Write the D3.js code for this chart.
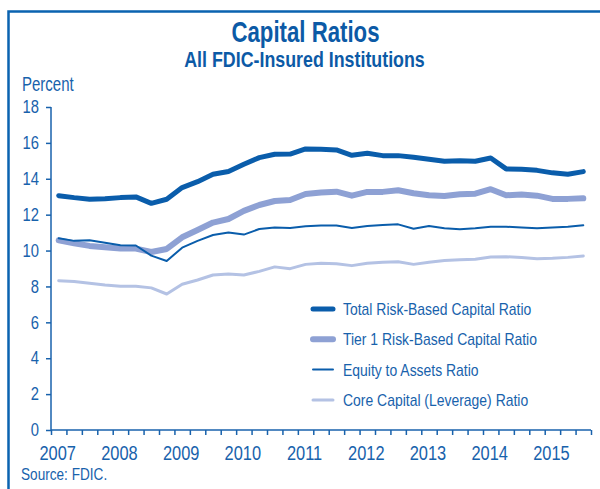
<!DOCTYPE html>
<html>
<head>
<meta charset="utf-8">
<script src="https://cdn.jsdelivr.net/npm/d3@7"></script>
<style>
  body { margin: 0; background: #fff; }
  text { font-family: "Liberation Sans", Arial, sans-serif; }
</style>
</head>
<body>
<div id="chart"></div>
<script>
// Quarterly data, 2007 Q1 to 2015 Q3
var quarters = [];
for (var y = 2007; y <= 2015; y++) {
  for (var q = 1; q <= 4; q++) {
    if (y === 2015 && q > 3) break;
    quarters.push(y + 'Q' + q);
  }
}

var yearLabels = ['2007', '2008', '2009', '2010', '2011', '2012', '2013', '2014', '2015'];
var yTicks = [0, 2, 4, 6, 8, 10, 12, 14, 16, 18];

var totalRiskBased = [13.06, 12.95, 12.86, 12.89, 12.95, 12.99, 12.63, 12.86, 13.51, 13.84, 14.25, 14.41,
  14.81, 15.18, 15.37, 15.38, 15.66, 15.64, 15.61, 15.31, 15.42, 15.29, 15.29, 15.20,
  15.09, 14.98, 15.01, 14.98, 15.16, 14.55, 14.53, 14.47, 14.33, 14.25, 14.40];

var tier1RiskBased = [10.57, 10.41, 10.26, 10.18, 10.11, 10.11, 9.92, 10.09, 10.74, 11.15, 11.56, 11.76,
  12.21, 12.54, 12.76, 12.82, 13.15, 13.23, 13.28, 13.06, 13.27, 13.27, 13.36, 13.19,
  13.08, 13.04, 13.14, 13.17, 13.42, 13.08, 13.12, 13.06, 12.88, 12.88, 12.91];

var equityToAssets = [10.68, 10.54, 10.57, 10.44, 10.29, 10.28, 9.72, 9.42, 10.16, 10.54, 10.87, 11.01,
  10.89, 11.20, 11.28, 11.26, 11.35, 11.39, 11.39, 11.26, 11.37, 11.43, 11.46, 11.22,
  11.37, 11.24, 11.19, 11.24, 11.32, 11.33, 11.28, 11.24, 11.28, 11.32, 11.41];

var coreCapital = [8.32, 8.27, 8.18, 8.08, 8.01, 8.01, 7.92, 7.58, 8.12, 8.36, 8.64, 8.70,
  8.64, 8.84, 9.09, 8.99, 9.23, 9.29, 9.27, 9.16, 9.29, 9.35, 9.38, 9.23,
  9.35, 9.44, 9.49, 9.51, 9.64, 9.66, 9.61, 9.55, 9.57, 9.62, 9.70];

var seriesNames = ['Total Risk-Based Capital Ratio', 'Tier 1 Risk-Based Capital Ratio',
  'Equity to Assets Ratio', 'Core Capital (Leverage) Ratio'];

// drawing order: thick ones first, then thin ones on top
var series = [
  { name: seriesNames[1], values: tier1RiskBased, color: '#8ea1d4', width: 6 },
  { name: seriesNames[0], values: totalRiskBased, color: '#0a5dab', width: 5 },
  { name: seriesNames[3], values: coreCapital, color: '#b4c2e4', width: 3 },
  { name: seriesNames[2], values: equityToAssets, color: '#0a5dab', width: 2 }
];
var legendOrder = [1, 0, 3, 2];

var W = 600, H = 489;
var blue = '#1862ac';
var titleBlue = '#0c5aa6';

// squeeze text so it looks like the condensed face of the original
var condense = function(sel, factor){
  sel.each(function(){
    var w = this.getComputedTextLength();
    d3.select(this).attr('textLength', w * factor).attr('lengthAdjust', 'spacingAndGlyphs');
  });
};

var svg = d3.select('#chart')
  .append('svg')
    .attr('width', W)
    .attr('height', H);

//Frame round the whole chart
svg.append('rect')
  .attr('x', 8.5)
  .attr('y', 11.5)
  .attr('width', W + 20)
  .attr('height', H + 20)
  .attr('fill', 'none')
  .attr('stroke', '#0a63b0')
  .attr('stroke-width', 2.5);

//Titles
svg.append('text')
  .attr('x', 305.5).attr('y', 42)
  .attr('text-anchor', 'middle')
  .attr('font-size', 30).attr('font-weight', 'bold')
  .attr('fill', titleBlue)
  .text('Capital Ratios')
  .call(condense, 0.74);

svg.append('text')
  .attr('x', 304.5).attr('y', 66.5)
  .attr('text-anchor', 'middle')
  .attr('font-size', 22).attr('font-weight', 'bold')
  .attr('fill', titleBlue)
  .text('All FDIC-Insured Institutions')
  .call(condense, 0.81);

svg.append('text')
  .attr('x', 22).attr('y', 91)
  .attr('font-size', 20)
  .attr('fill', blue)
  .text('Percent')
  .call(condense, 0.75);

//Scales
var x = d3.scaleBand().domain(quarters).range([51, 591]);
var y = d3.scaleLinear().domain([0, 18]).range([430, 107]);

//Y axis
var yAxis = svg.append('g')
  .attr('transform', 'translate(51,0)')
  .call(d3.axisLeft(y).tickValues(yTicks).tickSize(5).tickPadding(7));

//X axis, ticks on quarter boundaries
var xAxisScale = d3.scaleLinear().domain([0, quarters.length]).range([51, 591]);
var xAxis = svg.append('g')
  .attr('transform', 'translate(0,430)')
  .call(d3.axisBottom(xAxisScale).tickValues(d3.range(quarters.length + 1)).tickSize(5).tickFormat(''));

[yAxis, xAxis].forEach(function(g){
  g.select('.domain').attr('stroke', blue).attr('stroke-width', 1.5);
  g.selectAll('.tick line').attr('stroke', blue).attr('stroke-width', 1.5);
  g.selectAll('.tick text').attr('fill', blue).attr('font-size', 18)
    .attr('font-family', '"Liberation Sans", sans-serif');
});
xAxis.select('.domain').attr('d', 'M51,0H591');
yAxis.select('.domain').attr('d', 'M0,107V430');
yAxis.selectAll('.tick text').call(condense, 0.82);

//Year labels, under the first quarter of each year
svg.selectAll('.year').data(yearLabels).enter().append('text')
  .attr('class', 'year')
  .attr('x', function(d){ return x(d + 'Q1') + x.bandwidth() / 2 - 1; })
  .attr('y', 460)
  .attr('text-anchor', 'middle')
  .attr('font-size', 20)
  .attr('fill', blue)
  .text(function(d){ return d; })
  .call(condense, 0.82);

//Lines
var line = d3.line()
  .x(function(d, i){ return x(quarters[i]) + x.bandwidth() / 2; })
  .y(function(d){ return y(d); });

svg.selectAll('.series').data(series).enter().append('path')
  .attr('class', 'series')
  .attr('d', function(d){ return line(d.values); })
  .attr('fill', 'none')
  .attr('stroke', function(d){ return d.color; })
  .attr('stroke-width', function(d){ return d.width; })
  .attr('stroke-linejoin', 'round')
  .attr('stroke-linecap', 'round');

//Legend
var legend = svg.selectAll('.legend').data(legendOrder.map(function(i){ return series[i]; }))
  .enter().append('g')
    .attr('class', 'legend')
    .attr('transform', function(d, i){ return 'translate(313,' + (309 + i * 30.3) + ')'; });

legend.append('line')
  .attr('x1', 0).attr('x2', 20)
  .attr('stroke', function(d){ return d.color; })
  .attr('stroke-width', function(d){ return d.width; })
  .attr('stroke-linecap', 'round');

legend.append('text')
  .attr('x', 30).attr('y', 6)
  .attr('font-size', 17)
  .attr('fill', blue)
  .text(function(d){ return d.name; })
  .call(condense, 0.82);

//Source
svg.append('text')
  .attr('x', 21).attr('y', 480)
  .attr('font-size', 17)
  .attr('fill', blue)
  .text('Source: FDIC.')
  .call(condense, 0.8);
</script>
</body>
</html>
